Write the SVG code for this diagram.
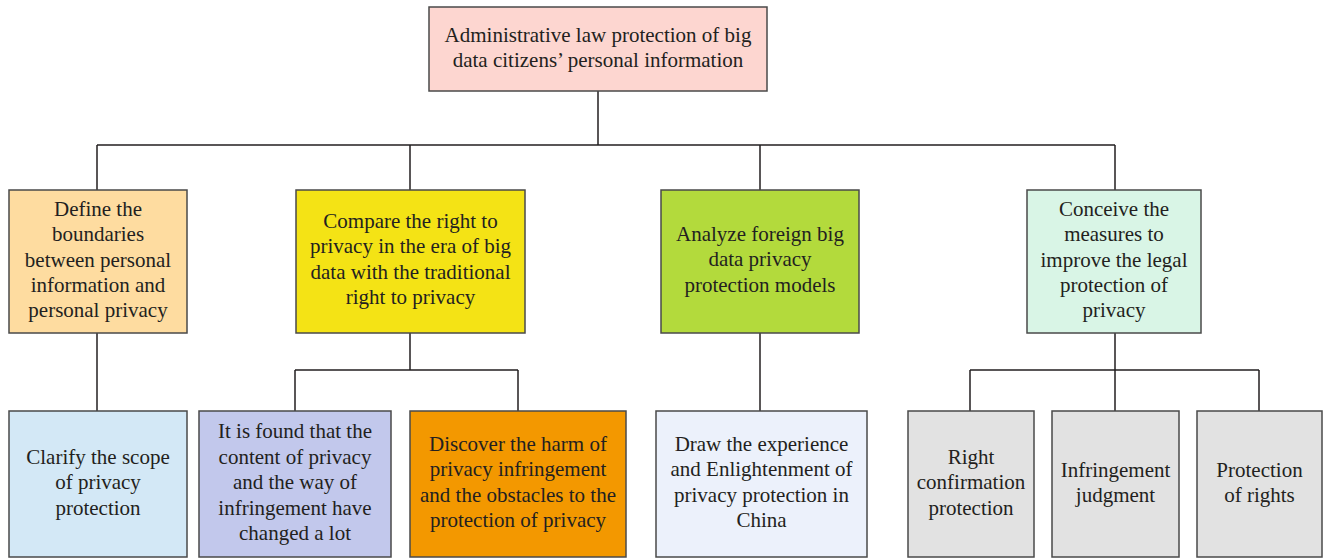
<svg xmlns="http://www.w3.org/2000/svg" width="1323" height="558" viewBox="0 0 1323 558">
<style>
.box{stroke:#4a4a4a;stroke-width:1.5}
.t{font-family:"Liberation Serif","Times New Roman",serif;font-size:21px;fill:#231f20;text-anchor:middle}
.c{fill:none;stroke:#231f20;stroke-width:1.5}
</style>
<rect width="1323" height="558" fill="#ffffff"/>
<g id="connectors">
<path class="c" d="M598 91V145M97 145H1115M97 145V190M410 145V190M760 145V190M1115 145V190"/>
<path class="c" d="M97 333V411"/>
<path class="c" d="M410 333V370M295 370H518M295 370V411M518 370V411"/>
<path class="c" d="M760 333V411"/>
<path class="c" d="M1115 333V370M970 370H1259M970 370V411M1115 370V411M1259 370V411"/>
</g>
<g id="root">
<rect class="box" x="429" y="7" width="338" height="84" fill="#fdd6d0"/>
<text class="t" x="598"><tspan x="598" y="42">Administrative law protection of big</tspan><tspan x="598" y="67">data citizens’ personal information</tspan></text>
</g>
<g id="n1">
<rect class="box" x="9" y="190" width="178" height="143" fill="#fedca0"/>
<text class="t"><tspan x="98" y="216">Define the</tspan><tspan x="98" y="241">boundaries</tspan><tspan x="98" y="267">between personal</tspan><tspan x="98" y="292">information and</tspan><tspan x="98" y="317">personal privacy</tspan></text>
</g>
<g id="n2">
<rect class="box" x="296" y="190" width="229" height="143" fill="#f4e315"/>
<text class="t"><tspan x="410.5" y="228">Compare the right to</tspan><tspan x="410.5" y="253">privacy in the era of big</tspan><tspan x="410.5" y="279">data with the traditional</tspan><tspan x="410.5" y="304">right to privacy</tspan></text>
</g>
<g id="n3">
<rect class="box" x="661" y="190" width="198" height="143" fill="#b3da3c"/>
<text class="t"><tspan x="760" y="241">Analyze foreign big</tspan><tspan x="760" y="266">data privacy</tspan><tspan x="760" y="292">protection models</tspan></text>
</g>
<g id="n4">
<rect class="box" x="1027" y="190" width="174" height="143" fill="#d9f5e6"/>
<text class="t"><tspan x="1114" y="216">Conceive the</tspan><tspan x="1114" y="241">measures to</tspan><tspan x="1114" y="267">improve the legal</tspan><tspan x="1114" y="292">protection of</tspan><tspan x="1114" y="317">privacy</tspan></text>
</g>
<g id="n1a">
<rect class="box" x="9" y="411" width="178" height="146" fill="#d3e8f6"/>
<text class="t"><tspan x="98" y="464">Clarify the scope</tspan><tspan x="98" y="489">of privacy</tspan><tspan x="98" y="515">protection</tspan></text>
</g>
<g id="n2a">
<rect class="box" x="199" y="411" width="192" height="146" fill="#c2c8ec"/>
<text class="t"><tspan x="295" y="438">It is found that the</tspan><tspan x="295" y="464">content of privacy</tspan><tspan x="295" y="489">and the way of</tspan><tspan x="295" y="515">infringement have</tspan><tspan x="295" y="540">changed a lot</tspan></text>
</g>
<g id="n2b">
<rect class="box" x="410" y="411" width="216" height="146" fill="#f39800"/>
<text class="t"><tspan x="518" y="451">Discover the harm of</tspan><tspan x="518" y="476">privacy infringement</tspan><tspan x="518" y="502">and the obstacles to the</tspan><tspan x="518" y="527">protection of privacy</tspan></text>
</g>
<g id="n3a">
<rect class="box" x="656" y="411" width="211" height="146" fill="#ecf1fb"/>
<text class="t"><tspan x="761.5" y="451">Draw the experience</tspan><tspan x="761.5" y="476">and Enlightenment of</tspan><tspan x="761.5" y="502">privacy protection in</tspan><tspan x="761.5" y="527">China</tspan></text>
</g>
<g id="n4a">
<rect class="box" x="908" y="411" width="126" height="146" fill="#e2e2e2"/>
<text class="t"><tspan x="971" y="464">Right</tspan><tspan x="971" y="489">confirmation</tspan><tspan x="971" y="515">protection</tspan></text>
</g>
<g id="n4b">
<rect class="box" x="1052" y="411" width="127" height="146" fill="#e2e2e2"/>
<text class="t"><tspan x="1115.5" y="477">Infringement</tspan><tspan x="1115.5" y="502">judgment</tspan></text>
</g>
<g id="n4c">
<rect class="box" x="1197" y="411" width="125" height="146" fill="#e2e2e2"/>
<text class="t"><tspan x="1259.5" y="477">Protection</tspan><tspan x="1259.5" y="502">of rights</tspan></text>
</g>
</svg>
